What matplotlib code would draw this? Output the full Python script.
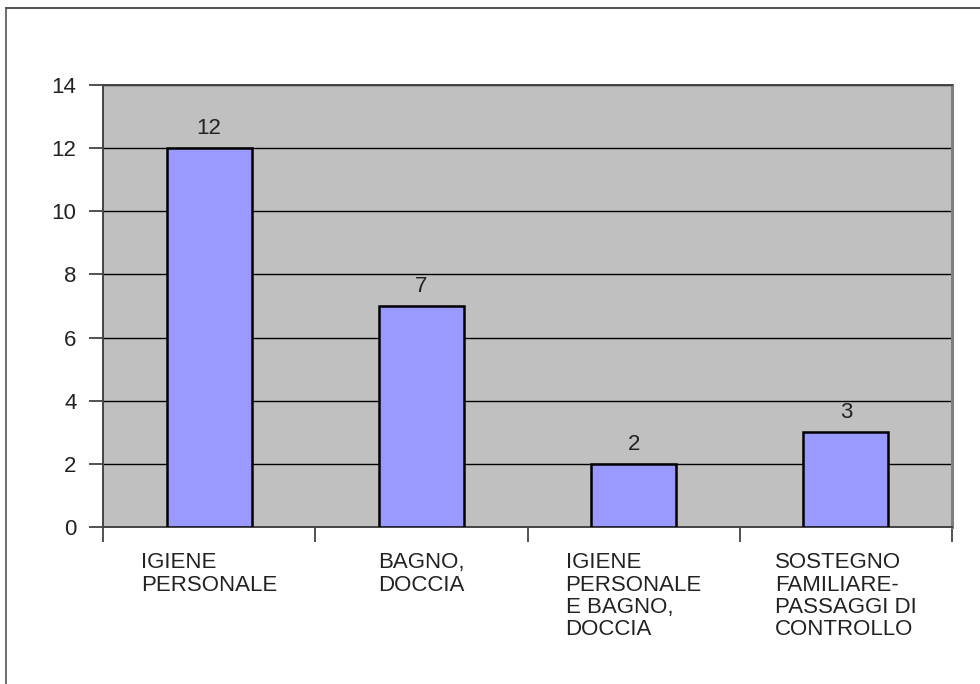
import matplotlib.pyplot as plt
from matplotlib.lines import Line2D
import numpy as np

plt.rcParams['font.family'] = ['Liberation Sans', 'DejaVu Sans']

# data
categories = ['IGIENE\nPERSONALE', 'BAGNO,\nDOCCIA',
              'IGIENE\nPERSONALE\nE BAGNO,\nDOCCIA',
              'SOSTEGNO\nFAMILIARE-\nPASSAGGI DI\nCONTROLLO']
values = [12, 7, 2, 3]
y_ticks = [0, 2, 4, 6, 8, 10, 12, 14]

W, H = 980, 684
fig = plt.figure(figsize=(W / 100, H / 100), dpi=100)
ax = fig.add_axes([103 / W, 1 - 527 / H, (952 - 103) / W, (527 - 85) / H])
ax.set_facecolor('#c0c0c0')

x = np.arange(len(values))
bars = ax.bar(x, values, width=0.4, color='#9999ff', edgecolor='black',
              linewidth=1.8, zorder=3)

ax.set_xlim(-0.5, len(values) - 0.5)
ax.set_ylim(0, 14)
ax.set_yticks(y_ticks)
ax.yaxis.grid(True, color='black', linewidth=1, zorder=1)
ax.set_axisbelow(True)

# ticks on the category boundaries, labels centred under the bars
ax.set_xticks(np.arange(-0.5, len(values), 1.0))
ax.set_xticklabels([])
ax.tick_params(axis='x', length=11, width=1.2, color='#333333')
ax.tick_params(axis='y', length=10, width=1.2, color='#333333',
               labelsize=16, pad=9, labelcolor='#222222')

for i, lab in enumerate(categories):
    ax.text(i, -0.8, lab, ha='center', va='top', ma='left',
            fontsize=16, linespacing=1.08, color='#222222')

for b, v in zip(bars, values):
    ax.text(b.get_x() + b.get_width() / 2, v + 0.28, str(v), ha='center',
            va='bottom', fontsize=16, color='#222222')

for side in ['left', 'bottom', 'top']:
    ax.spines[side].set_color('#444444')
    ax.spines[side].set_linewidth(1.4)
ax.spines['right'].set_color('#808080')
ax.spines['right'].set_linewidth(2.2)

# outer frame of the picture (top and left edges)
fig.add_artist(Line2D([6 / W, 1], [1 - 8 / H, 1 - 8 / H], color='#333333',
                      linewidth=1.2, transform=fig.transFigure))
fig.add_artist(Line2D([6 / W, 6 / W], [0, 1 - 8 / H], color='#555555',
                      linewidth=1.2, transform=fig.transFigure))

fig.savefig('out.png', dpi=100)
